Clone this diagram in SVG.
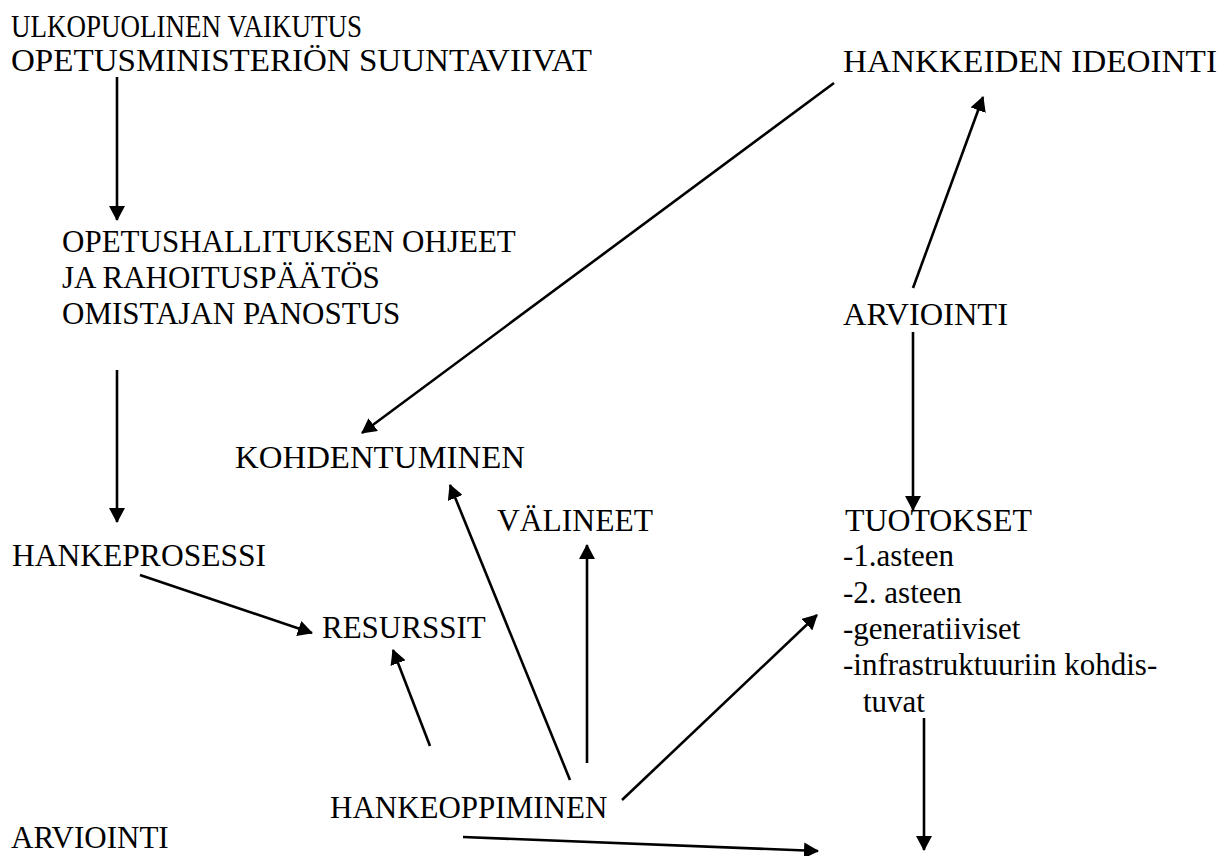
<svg xmlns="http://www.w3.org/2000/svg" width="1224" height="856" viewBox="0 0 1224 856">
<style>
text{font-family:"Liberation Serif","Times New Roman",serif;font-size:31px;fill:#000}
.c line{stroke:#000;stroke-width:2.6;fill:none;marker-end:url(#ah)}
</style>
<defs>
<marker id="ah" markerUnits="userSpaceOnUse" viewBox="0 0 15 16" refX="14" refY="8" markerWidth="15" markerHeight="16" orient="auto">
<path d="M0,0 L15,8 L0,16 z" fill="#000"/>
</marker>
</defs>
<rect width="1224" height="856" fill="#fff"/>
<g id="n-ulkopuolinen"><text x="11" y="37" textLength="351" lengthAdjust="spacingAndGlyphs">ULKOPUOLINEN VAIKUTUS</text><text x="11" y="71" textLength="581" lengthAdjust="spacingAndGlyphs">OPETUSMINISTERIÖN SUUNTAVIIVAT</text></g>
<g id="n-ideointi"><text x="843" y="72" textLength="374" lengthAdjust="spacingAndGlyphs">HANKKEIDEN IDEOINTI</text></g>
<g id="n-opetushallitus"><text x="62" y="252">OPETUSHALLITUKSEN OHJEET</text><text x="62" y="288">JA RAHOITUSPÄÄTÖS</text><text x="62" y="324">OMISTAJAN PANOSTUS</text></g>
<g id="n-arviointi1"><text x="843" y="325" textLength="165" lengthAdjust="spacingAndGlyphs">ARVIOINTI</text></g>
<g id="n-kohdentuminen"><text x="235" y="468" textLength="290" lengthAdjust="spacingAndGlyphs">KOHDENTUMINEN</text></g>
<g id="n-valineet"><text x="497" y="531" textLength="156" lengthAdjust="spacingAndGlyphs">VÄLINEET</text></g>
<g id="n-tuotokset"><text x="845" y="531" textLength="187" lengthAdjust="spacingAndGlyphs">TUOTOKSET</text><text x="843" y="566">-1.asteen</text><text x="843" y="603">-2. asteen</text><text x="843" y="639">-generatiiviset</text><text x="843" y="675">-infrastruktuuriin kohdis-</text><text x="863" y="712">tuvat</text></g>
<g id="n-hankeprosessi"><text x="12" y="566" textLength="254" lengthAdjust="spacingAndGlyphs">HANKEPROSESSI</text></g>
<g id="n-resurssit"><text x="322" y="638">RESURSSIT</text></g>
<g id="n-hankeoppiminen"><text x="330" y="818">HANKEOPPIMINEN</text></g>
<g id="n-arviointi2"><text x="11" y="848">ARVIOINTI</text></g>
<g id="connectors" class="c">
<line x1="117" y1="77" x2="117" y2="220"/>
<line x1="117" y1="370" x2="117" y2="522"/>
<line x1="834" y1="83" x2="362" y2="433"/>
<line x1="913" y1="288" x2="983" y2="97"/>
<line x1="913" y1="332" x2="913" y2="510"/>
<line x1="140" y1="575" x2="312" y2="633"/>
<line x1="430" y1="746" x2="393" y2="650"/>
<line x1="570" y1="780" x2="450" y2="485"/>
<line x1="587" y1="763" x2="587" y2="545"/>
<line x1="622" y1="800" x2="817" y2="615"/>
<line x1="924" y1="718" x2="924" y2="850"/>
<line x1="463" y1="837" x2="818" y2="851"/>
</g>
</svg>
